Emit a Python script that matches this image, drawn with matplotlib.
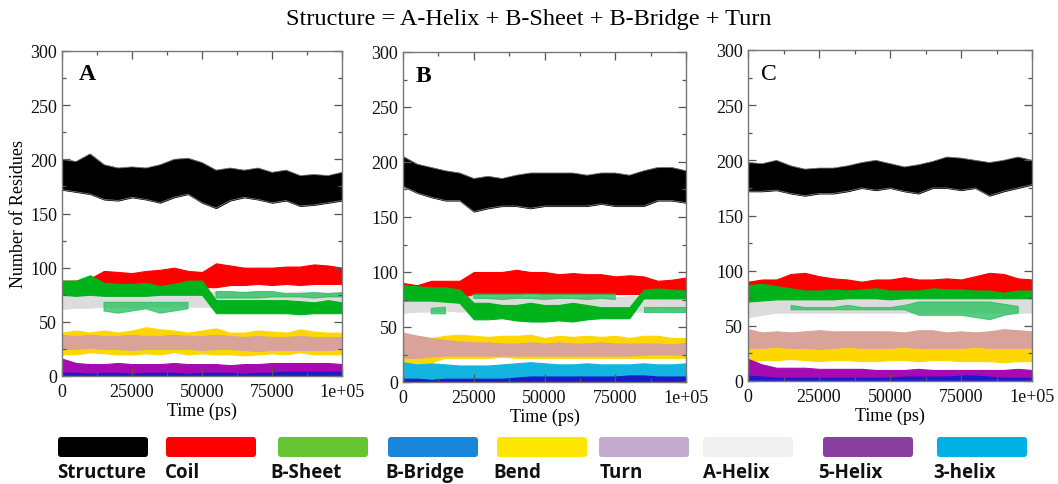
import numpy as np
import matplotlib
matplotlib.use("Agg")
import matplotlib.pyplot as plt
from matplotlib.patches import FancyBboxPatch
from matplotlib.ticker import MultipleLocator, FuncFormatter

# ---------------------------------------------------------------- data
# time axis (ps), one sample every 5000 ps
time_ps = np.arange(0, 100001, 5000)
nan = np.nan

# envelopes (upper / lower) of each DSSP class, number of residues
# ---- system A
A_structure_hi = [200, 198, 205, 195, 192, 193, 192, 195, 200, 201, 197, 190, 192, 190, 192, 188, 190, 185, 186, 185, 188]
A_structure_lo = [172, 170, 168, 163, 162, 165, 163, 160, 165, 168, 160, 155, 162, 165, 163, 160, 162, 157, 158, 160, 162]
A_coil_hi = [88, 88, 90, 97, 96, 95, 97, 98, 100, 97, 96, 104, 102, 100, 100, 100, 101, 101, 103, 102, 100]
A_coil_lo = [80, 80, 80, 82, 82, 81, 80, 80, 80, 81, 82, 82, 84, 84, 85, 84, 85, 84, 85, 85, 85]
A_sheet_hi = [88, 88, 93, 86, 85, 85, 86, 83, 85, 88, 88, 70, 70, 70, 70, 70, 70, 69, 68, 70, 68]
A_sheet_lo = [75, 74, 75, 74, 74, 74, 74, 75, 75, 75, 75, 58, 58, 58, 58, 58, 58, 57, 58, 58, 58]
A_sheet2_hi = [nan, nan, nan, 68, 68, 68, 68, 68, 68, 68, nan, 78, 78, 77, 78, 78, 76, 76, 77, 76, 77]
A_sheet2_lo = [nan, nan, nan, 60, 58, 60, 62, 58, 60, 62, nan, 72, 72, 72, 72, 73, 73, 73, 72, 73, 73]
A_ahelix_hi = [80, 78, 78, 78, 78, 78, 77, 77, 78, 77, 77, 78, 77, 78, 78, 77, 77, 78, 77, 77, 77]
A_ahelix_lo = [62, 63, 63, 64, 64, 63, 64, 64, 64, 64, 64, 64, 64, 65, 64, 64, 64, 65, 64, 64, 65]
A_bend_hi = [40, 42, 40, 42, 40, 42, 45, 43, 42, 40, 42, 44, 40, 40, 42, 41, 40, 43, 41, 40, 40]
A_bend_lo = [20, 20, 22, 21, 20, 20, 21, 20, 22, 20, 21, 20, 20, 19, 20, 21, 20, 22, 20, 20, 20]
A_turn_hi = [38, 37, 38, 37, 37, 38, 37, 37, 38, 37, 37, 38, 37, 36, 37, 36, 36, 37, 36, 36, 36]
A_turn_lo = [25, 25, 26, 25, 25, 24, 25, 25, 25, 25, 24, 25, 25, 24, 23, 24, 24, 24, 24, 24, 25]
A_5helix_hi = [16, 12, 11, 11, 12, 11, 11, 11, 12, 11, 11, 11, 10, 11, 11, 12, 12, 12, 12, 12, 11]
A_5helix_lo = [1, 2, 2, 2, 2, 2, 2, 2, 2, 2, 2, 2, 2, 2, 2, 2, 2, 2, 2, 2, 2]
A_bridge_hi = [3, 3, 2, 3, 3, 2, 3, 3, 3, 2, 3, 3, 3, 2, 3, 3, 4, 4, 4, 4, 4]
A_bridge_lo = [0] * 21

# ---- system B
B_structure_hi = [205, 198, 195, 192, 190, 185, 187, 185, 188, 190, 190, 190, 190, 188, 190, 190, 188, 192, 195, 195, 192]
B_structure_lo = [178, 172, 168, 165, 165, 155, 158, 160, 160, 158, 160, 160, 160, 160, 162, 160, 160, 160, 165, 165, 163]
B_coil_hi = [90, 88, 92, 92, 92, 100, 100, 100, 102, 100, 100, 98, 99, 98, 98, 96, 97, 96, 92, 93, 95]
B_coil_lo = [80, 79, 80, 78, 77, 80, 80, 80, 80, 81, 80, 80, 80, 80, 80, 80, 80, 80, 80, 80, 80]
B_sheet_hi = [88, 87, 86, 86, 84, 72, 72, 70, 70, 72, 70, 70, 72, 70, 68, 68, 68, 84, 85, 84, 83]
B_sheet_lo = [74, 74, 74, 73, 72, 57, 57, 58, 56, 55, 55, 56, 55, 57, 58, 58, 58, 76, 76, 76, 76]
B_sheet2_hi = [nan, nan, 67, 68, nan, 80, 80, 80, 80, 80, 80, 80, 80, 80, 80, 80, nan, 68, 68, 68, 68]
B_sheet2_lo = [nan, nan, 62, 62, nan, 76, 76, 75, 76, 76, 75, 76, 76, 75, 76, 75, nan, 64, 64, 64, 64]
B_ahelix_hi = [80, 79, 78, 78, 78, 78, 77, 78, 78, 77, 78, 78, 77, 78, 78, 77, 78, 78, 78, 77, 78]
B_ahelix_lo = [63, 64, 64, 65, 64, 64, 65, 64, 64, 65, 64, 64, 65, 64, 64, 65, 64, 64, 65, 64, 65]
B_bend_hi = [43, 42, 40, 42, 43, 42, 41, 42, 42, 43, 40, 42, 41, 42, 41, 42, 40, 42, 42, 40, 40]
B_bend_lo = [18, 17, 18, 22, 22, 22, 22, 23, 22, 22, 22, 22, 22, 22, 22, 22, 22, 22, 22, 22, 22]
B_turn_hi = [45, 42, 40, 38, 37, 36, 36, 35, 35, 36, 35, 36, 35, 35, 36, 35, 35, 35, 35, 34, 36]
B_turn_lo = [22, 22, 23, 24, 24, 24, 24, 24, 24, 24, 24, 24, 24, 24, 24, 24, 24, 25, 25, 25, 25]
B_3helix_hi = [18, 16, 17, 16, 15, 15, 15, 16, 17, 18, 17, 16, 16, 17, 16, 16, 16, 17, 16, 16, 17]
B_3helix_lo = [0] * 21
B_bridge_hi = [3, 3, 2, 3, 3, 3, 3, 3, 4, 5, 5, 5, 5, 5, 5, 5, 6, 6, 5, 5, 5]
B_bridge_lo = [0] * 21

# ---- system C
C_structure_hi = [198, 197, 200, 195, 192, 193, 193, 195, 198, 200, 197, 194, 196, 199, 203, 202, 200, 198, 200, 203, 200]
C_structure_lo = [172, 172, 173, 170, 168, 170, 170, 172, 175, 173, 175, 172, 170, 175, 175, 173, 175, 168, 172, 175, 178]
C_coil_hi = [90, 92, 92, 97, 98, 95, 93, 92, 90, 92, 92, 94, 92, 92, 93, 92, 95, 98, 97, 93, 92]
C_coil_lo = [80, 80, 80, 80, 80, 80, 80, 80, 80, 80, 79, 80, 80, 80, 80, 80, 80, 80, 80, 80, 80]
C_sheet_hi = [87, 88, 86, 84, 82, 82, 83, 82, 83, 84, 82, 82, 82, 84, 83, 83, 82, 82, 80, 82, 82]
C_sheet_lo = [72, 73, 74, 74, 74, 74, 74, 75, 75, 75, 74, 75, 75, 75, 75, 75, 75, 75, 75, 75, 75]
C_sheet2_hi = [nan, nan, nan, 69, 67, 67, 67, 69, 67, 67, 67, 69, 72, 72, 72, 72, 72, 72, 70, 68, nan]
C_sheet2_lo = [nan, nan, nan, 65, 65, 65, 65, 65, 65, 65, 65, 65, 60, 60, 60, 60, 58, 56, 60, 62, nan]
C_ahelix_hi = [76, 76, 76, 75, 75, 75, 75, 76, 76, 75, 75, 76, 76, 76, 76, 76, 76, 76, 76, 77, 77]
C_ahelix_lo = [58, 60, 62, 62, 62, 62, 62, 62, 62, 62, 62, 62, 62, 62, 62, 62, 62, 62, 62, 62, 62]
C_bend_hi = [31, 30, 30, 31, 32, 32, 30, 32, 32, 31, 32, 30, 31, 30, 30, 32, 30, 30, 31, 32, 31]
C_bend_lo = [18, 19, 19, 20, 19, 18, 19, 19, 18, 18, 19, 19, 18, 19, 19, 18, 18, 18, 17, 18, 18]
C_turn_hi = [47, 44, 45, 44, 45, 46, 45, 45, 45, 45, 45, 44, 46, 46, 44, 45, 44, 45, 47, 46, 45]
C_turn_lo = [30, 30, 31, 30, 30, 29, 30, 31, 30, 30, 30, 31, 30, 30, 30, 30, 31, 30, 30, 30, 30]
C_5helix_hi = [20, 15, 12, 12, 12, 11, 11, 11, 11, 10, 10, 10, 11, 10, 10, 10, 10, 10, 10, 11, 10]
C_5helix_lo = [2] * 21
C_bridge_hi = [5, 4, 3, 3, 3, 3, 3, 3, 3, 3, 3, 4, 4, 4, 4, 5, 5, 4, 3, 3, 3]
C_bridge_lo = [0.5] * 21

# legend entries
legend_labels = ["Structure", "Coil", "B-Sheet", "B-Bridge", "Bend",
                 "Turn", "A-Helix", "5-Helix", "3-helix"]
legend_colors = ["#000000", "#ff0000", "#66c631", "#1a86d9", "#ffe600",
                 "#c4aacd", "#f0f0f0", "#8b3fa0", "#00b2e3"]

panel_labels = ["A", "B", "C"]
title_text = "Structure = A-Helix + B-Sheet + B-Bridge + Turn"
x_ticks = [0, 25000, 50000, 75000, 100000]
y_ticks = [0, 50, 100, 150, 200, 250, 300]

# ---------------------------------------------------------------- styling
line_colors = {
    "structure": "#000000", "coil": "#ff0000", "sheet": "#00b31a",
    "sheet2": "#22c05a", "ahelix": "#dcdcdc", "bend": "#ffd700",
    "turn": "#d9a39a", "5helix": "#a60ab0", "3helix": "#13b4e0",
    "bridge": "#1a1acc",
}
draw_order = ["structure", "ahelix", "coil", "sheet", "sheet2", "bend",
              "turn", "3helix", "5helix", "bridge"]

panels = [
    {"structure": (A_structure_lo, A_structure_hi), "coil": (A_coil_lo, A_coil_hi),
     "sheet": (A_sheet_lo, A_sheet_hi), "sheet2": (A_sheet2_lo, A_sheet2_hi),
     "ahelix": (A_ahelix_lo, A_ahelix_hi), "bend": (A_bend_lo, A_bend_hi),
     "turn": (A_turn_lo, A_turn_hi), "5helix": (A_5helix_lo, A_5helix_hi),
     "bridge": (A_bridge_lo, A_bridge_hi)},
    {"structure": (B_structure_lo, B_structure_hi), "coil": (B_coil_lo, B_coil_hi),
     "sheet": (B_sheet_lo, B_sheet_hi), "sheet2": (B_sheet2_lo, B_sheet2_hi),
     "ahelix": (B_ahelix_lo, B_ahelix_hi), "bend": (B_bend_lo, B_bend_hi),
     "turn": (B_turn_lo, B_turn_hi), "3helix": (B_3helix_lo, B_3helix_hi),
     "bridge": (B_bridge_lo, B_bridge_hi)},
    {"structure": (C_structure_lo, C_structure_hi), "coil": (C_coil_lo, C_coil_hi),
     "sheet": (C_sheet_lo, C_sheet_hi), "sheet2": (C_sheet2_lo, C_sheet2_hi),
     "ahelix": (C_ahelix_lo, C_ahelix_hi), "bend": (C_bend_lo, C_bend_hi),
     "turn": (C_turn_lo, C_turn_hi), "5helix": (C_5helix_lo, C_5helix_hi),
     "bridge": (C_bridge_lo, C_bridge_hi)},
]

W, H = 1058, 485
# axes boxes in pixels: left, right, top, bottom
boxes = [(62, 342, 52, 377), (403, 686, 53, 383), (748, 1032, 51, 382)]
letter_x = [0.06, 0.045, 0.045]

serif = ["Liberation Serif", "DejaVu Serif"]
fig = plt.figure(figsize=(W / 100, H / 100), dpi=100)
fig.patch.set_facecolor("white")


def tick_label(v, _pos):
    return "1e+05" if v >= 100000 else f"{int(v)}"


for i, (box, data) in enumerate(zip(boxes, panels)):
    l, r, t, b = box
    ax = fig.add_axes([l / W, 1 - b / H, (r - l) / W, (b - t) / H])
    for key in draw_order:
        if key not in data:
            continue
        lo, hi = data[key]
        lo = np.asarray(lo, float)
        hi = np.asarray(hi, float)
        c = line_colors[key]
        alpha = 0.75 if key == "sheet2" else 1.0
        ax.fill_between(time_ps, lo, hi, color=c, lw=0.8, edgecolor=c, alpha=alpha)
        if key == "structure":
            ax.plot(time_ps, hi, color="#777777", lw=0.6)
            ax.plot(time_ps, lo, color="#777777", lw=0.6)
    ax.set_xlim(0, 100000)
    ax.set_ylim(0, 300)
    ax.set_xticks(x_ticks)
    ax.set_yticks(y_ticks)
    ax.xaxis.set_minor_locator(MultipleLocator(12500))
    ax.yaxis.set_minor_locator(MultipleLocator(25))
    ax.xaxis.set_major_formatter(FuncFormatter(tick_label))
    ax.tick_params(which="both", direction="in", top=True, right=True,
                   colors="#555555", labelcolor="#111111")
    ax.tick_params(which="major", length=6, width=0.9)
    ax.tick_params(which="minor", length=3, width=0.9)
    ax.tick_params(axis="x", which="major", pad=5)
    for lab in ax.get_xticklabels() + ax.get_yticklabels():
        lab.set_fontfamily(serif)
        lab.set_fontsize(13)
    for s in ax.spines.values():
        s.set_color("#777777")
        s.set_linewidth(1.0)
    ax.set_xlabel("Time (ps)", fontfamily=serif, fontsize=13, labelpad=1)
    if i == 0:
        ax.set_ylabel("Number of Residues", fontfamily=serif, fontsize=13, labelpad=2)
    ax.text(letter_x[i], 0.93, panel_labels[i], transform=ax.transAxes,
            fontfamily=serif, fontsize=17,
            fontweight="normal" if i == 2 else "bold", va="center", ha="left")

fig.text(0.5, 1 - 19 / H, title_text, ha="center", va="center",
         fontfamily=serif, fontsize=17.5)

# colour key along the bottom
lax = fig.add_axes([0, 0, 1, 1], facecolor="none")
lax.set_xlim(0, W)
lax.set_ylim(H, 0)
lax.axis("off")
rect_x = [57, 165, 277, 387, 496, 598, 702, 822, 936]
text_x = [57, 165, 270, 385, 493, 600, 703, 818, 933]
for rx, tx, lab, col in zip(rect_x, text_x, legend_labels, legend_colors):
    lax.add_patch(FancyBboxPatch((rx + 1, 438), 90, 20,
                                 boxstyle="round,pad=0,rounding_size=3",
                                 facecolor=col, edgecolor="none"))
    lax.text(tx, 473, lab, ha="left", va="center", fontsize=13.5,
             fontweight="bold", fontfamily=["Open Sans", "DejaVu Sans"],
             color="#111111")

fig.savefig("out.png", dpi=100)
